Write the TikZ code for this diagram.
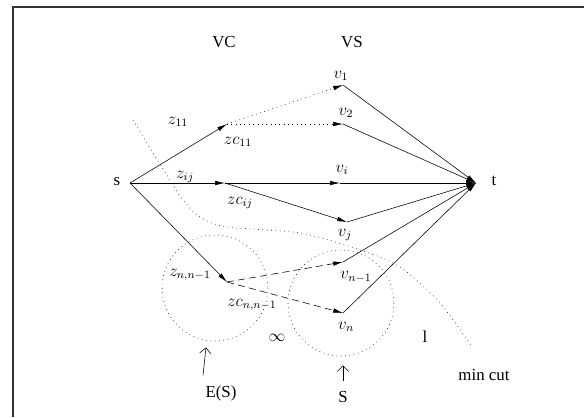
\documentclass[tikz,border=0pt]{standalone}
\usepackage{amsmath}
\usepackage{amssymb}
\usepackage{fontspec}
\setmainfont{Liberation Serif}
\usetikzlibrary{arrows.meta, positioning}

\tikzset{
    flow/.style={-{Latex[length=7pt,width=3.2pt]}},
    sparse/.style={dash pattern=on 0.5pt off 2.6pt},
}

\begin{document}
\begin{tikzpicture}[x=0.025cm, y=-0.025cm, every node/.style={font=\fontsize{12}{14}\selectfont}]
    \useasboundingbox (0,0) rectangle (584,417);
    % Frame
    \draw[black!80, line width=0.8pt] (13,417) -- (13,7) -- (584,7);

    % Column titles
    \node (vc) at (224,42) {VC};
    \node (vs) at (352,42) {VS};

    % Points
    \coordinate (s) at (130,183);
    \coordinate (t) at (476,183);
    \coordinate (zc11) at (227,124);
    \coordinate (zcij) at (225,183);
    \coordinate (zcn) at (227,282);
    \coordinate (v1) at (343,85);
    \coordinate (v2) at (343,124);
    \coordinate (vi) at (340,183);
    \coordinate (vj) at (347,222);
    \coordinate (vnm) at (343,262);
    \coordinate (vn) at (343,313);

    % Labels
    \node (slab) at (117,182) {s};
    \node (tlab) at (494,181) {t};
    \node (v1lab) at (341,76) {$v_1$};
    \node (v2lab) at (346,113) {$v_2$};
    \node (vilab) at (342,170) {$v_i$};
    \node (vjlab) at (345,235) {$v_j$};
    \node (vnmlab) at (356,277) {$v_{n-1}$};
    \node (vnlab) at (346,327) {$v_n$};
    \node (z11) at (178,122) {$z_{11}$};
    \node (zc11lab) at (238,142) {$zc_{11}$};
    \node (zij) at (185,177) {$z_{ij}$};
    \node (zcijlab) at (240,203) {$zc_{ij}$};
    \node (zn) at (190,275) {$z_{n,n-1}$};
    \node (zcnlab) at (252,305) {$zc_{n,n-1}$};
    \node (inf) at (277,338) {$\infty$};
    \node (ell) at (425,337) {l};
    \node (mincut) at (484,375) {min cut};
    \node (es) at (221,393) {E(S)};
    \node (slab2) at (343,397) {S};

    % Edges out of s
    \draw[flow] (s) -- (zc11);
    \draw[flow] (s) -- (zcij);
    \draw[flow] (s) -- (zcn);
    % Middle layer
    \draw[flow, sparse] (zc11) -- (v1);
    \draw[flow, sparse] (zc11) -- (v2);
    \draw[flow] (zcij) -- (vi);
    \draw[flow] (zcij) -- (vj);
    \draw[flow, dash pattern=on 5pt off 3pt] (zcn) -- (vnm);
    \draw[flow, dash pattern=on 5pt off 3pt] (zcn) -- (vn);
    % Into t
    \foreach \v in {v1, v2, vi, vj, vnm, vn}
        \draw[flow] (\v) -- (t);

    % Sets E(S) and S
    \draw[sparse] (215,288) circle (53);
    \draw[sparse] (341,303) circle (53);
    \draw[-{Straight Barb[length=4pt]}] (es.north) ++(-18,-5) -- ++(3,-28);
    \draw[-{Straight Barb[length=4pt]}] (slab2.north) ++(0,-5) -- ++(0,-16);

    % Min cut
    \draw[sparse] plot[smooth] coordinates {(133,120) (153,153) (170,180) (183,200)
        (200,217) (227,227) (300,233) (360,250) (400,267) (440,303) (472,347)};
\end{tikzpicture}
\end{document}
